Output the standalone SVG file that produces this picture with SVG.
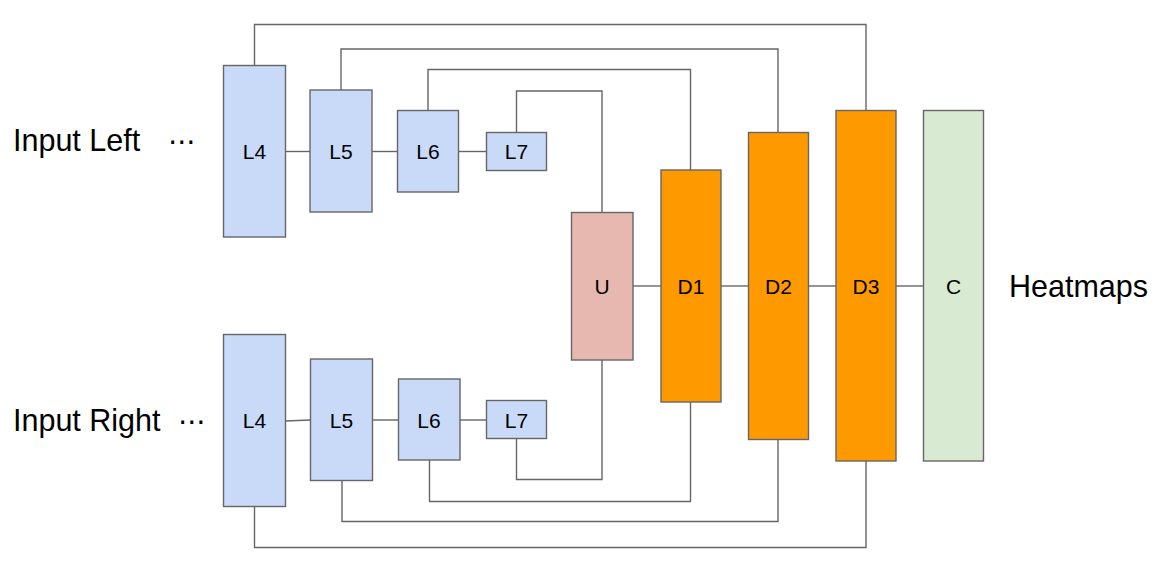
<svg xmlns="http://www.w3.org/2000/svg" width="1164" height="568" viewBox="0 0 1164 568">
<style>
.n{stroke:#666;stroke-width:1.4}
.b{fill:#c9daf8}.u{fill:#e6b8af}.o{fill:#ff9900}.g{fill:#d9ead3}
.c{fill:none;stroke:#666;stroke-width:1.4}
.l{font-family:"Liberation Sans",Arial,sans-serif;font-size:21px;fill:#000;text-anchor:middle}
.t{font-family:"Liberation Sans",Arial,sans-serif;font-size:30.5px;fill:#000}
.d{font-family:"DejaVu Sans","Liberation Sans",sans-serif;font-size:28px;fill:#000}
</style>
<rect width="1164" height="568" fill="#fff"/>
<g id="connectors">
<polyline class="c" points="254.5,65.5 254.5,24.5 866,24.5 866,110.5"/>
<polyline class="c" points="341,90 341,49 778,49 778,132.5"/>
<polyline class="c" points="428,110.5 428,69.5 690.5,69.5 690.5,170"/>
<polyline class="c" points="516.5,132.5 516.5,91 602,91 602,212"/>
<line class="c" x1="285" y1="151.5" x2="310" y2="151.5"/>
<line class="c" x1="372" y1="151.5" x2="397" y2="151.5"/>
<line class="c" x1="459" y1="151.5" x2="486.5" y2="151.5"/>
<line class="c" x1="285" y1="421" x2="310.5" y2="420"/>
<line class="c" x1="372.5" y1="420" x2="398" y2="420"/>
<line class="c" x1="460" y1="420" x2="486.5" y2="420"/>
<polyline class="c" points="516.5,438 516.5,479.5 602,479.5 602,360"/>
<polyline class="c" points="429.5,460 429.5,501.5 690.5,501.5 690.5,402"/>
<polyline class="c" points="342,480.5 342,521.5 778,521.5 778,439.5"/>
<polyline class="c" points="254.5,506.5 254.5,547.5 866,547.5 866,461"/>
<line class="c" x1="633" y1="286" x2="661" y2="286"/>
<line class="c" x1="721" y1="286" x2="748.5" y2="286"/>
<line class="c" x1="808.5" y1="286" x2="836" y2="286"/>
<line class="c" x1="896" y1="286" x2="923.5" y2="286"/>
</g>
<g id="input-left"><text class="t" x="13" y="151">Input Left</text><text class="d" x="168" y="151">⋯</text></g>
<g id="input-right"><text class="t" x="13" y="431">Input Right</text><text class="d" x="178" y="431">⋯</text></g>
<g id="heatmaps"><text class="t" x="1009" y="297">Heatmaps</text></g>
<g id="L4-top"><rect class="n b" x="223.5" y="65.5" width="62" height="171.5"/><text class="l" x="254.5" y="158.5">L4</text></g>
<g id="L5-top"><rect class="n b" x="310" y="90" width="62" height="122"/><text class="l" x="341" y="158.5">L5</text></g>
<g id="L6-top"><rect class="n b" x="397.5" y="110.5" width="61" height="81.5"/><text class="l" x="428" y="158.5">L6</text></g>
<g id="L7-top"><rect class="n b" x="486.5" y="132.5" width="60" height="38"/><text class="l" x="516.5" y="158.5">L7</text></g>
<g id="L4-bottom"><rect class="n b" x="223.5" y="334.5" width="62" height="172"/><text class="l" x="254.5" y="428">L4</text></g>
<g id="L5-bottom"><rect class="n b" x="310.5" y="359" width="62" height="121.5"/><text class="l" x="341.5" y="427.5">L5</text></g>
<g id="L6-bottom"><rect class="n b" x="398.5" y="379" width="61.5" height="81"/><text class="l" x="429" y="427.5">L6</text></g>
<g id="L7-bottom"><rect class="n b" x="486.5" y="400.5" width="60" height="38"/><text class="l" x="516.5" y="427.5">L7</text></g>
<g id="U"><rect class="n u" x="571.5" y="212.5" width="61.5" height="147.5"/><text class="l" x="602" y="293.5">U</text></g>
<g id="D1"><rect class="n o" x="661" y="170" width="60" height="232"/><text class="l" x="691" y="293.5">D1</text></g>
<g id="D2"><rect class="n o" x="748.5" y="132.5" width="60" height="307"/><text class="l" x="778.5" y="293.5">D2</text></g>
<g id="D3"><rect class="n o" x="836" y="110.5" width="60" height="350.5"/><text class="l" x="866" y="293.5">D3</text></g>
<g id="C"><rect class="n g" x="923.5" y="110.5" width="60" height="350.5"/><text class="l" x="953.5" y="293.5">C</text></g>
</svg>
